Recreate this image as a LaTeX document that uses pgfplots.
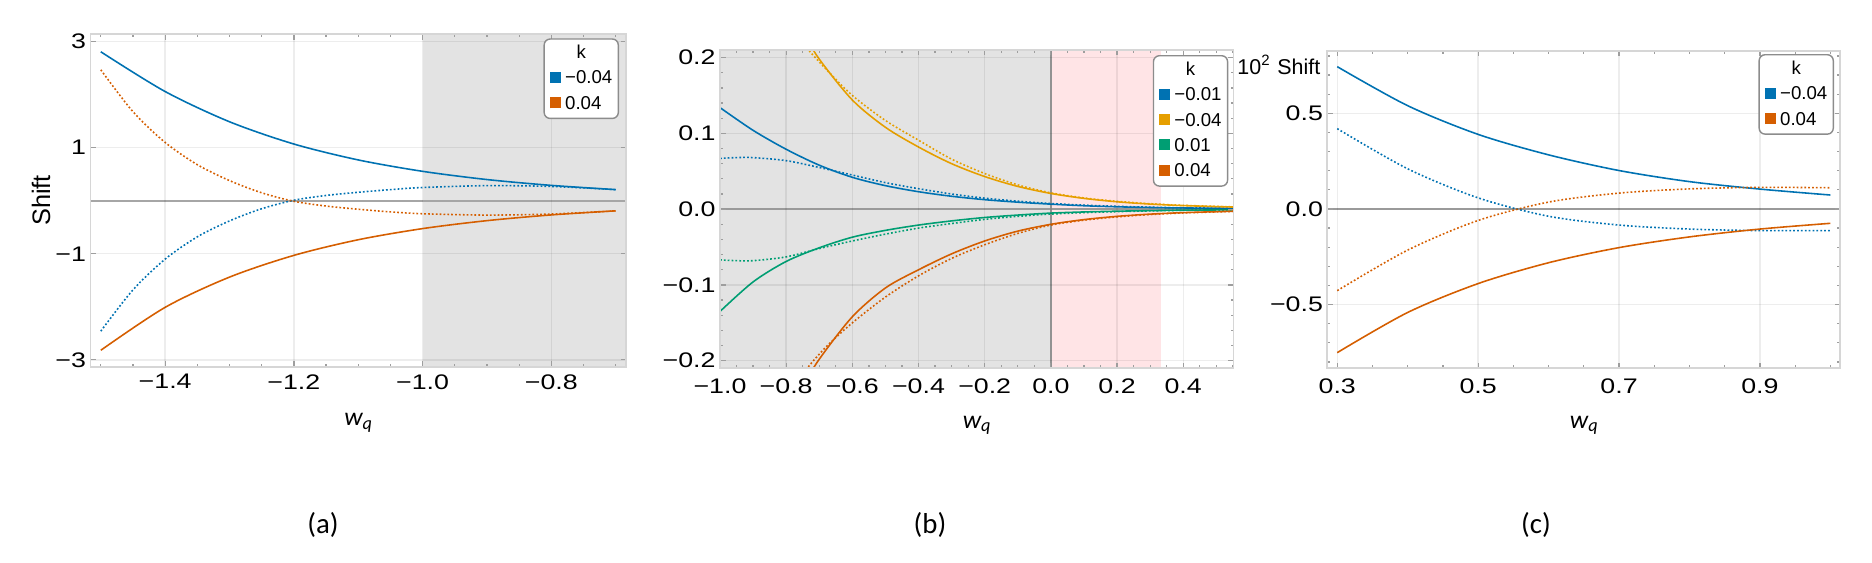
\documentclass[border=0pt]{standalone}
\usepackage{fontspec}
\setmainfont{Liberation Sans}
\newfontfamily\capfont{Carlito}
\usepackage{pgfplots}
\pgfplotsset{compat=1.18}

\definecolor{cB}{HTML}{0072B2}
\definecolor{cY}{HTML}{E69F00}
\definecolor{cG}{HTML}{009E73}
\definecolor{cV}{HTML}{D55E00}
\definecolor{shade}{RGB}{227,227,227}
\definecolor{pinkzone}{RGB}{255,228,230}

\newcommand{\sw}[1]{\textcolor{#1}{\rule[0.1mm]{1.1mm}{1.1mm}}}
\newcommand{\wq}{{\capfont\itshape\fontsize{7.3}{8}\selectfont w\raisebox{-0.35mm}{\fontsize{5.2}{6}\selectfont q}}}

\pgfplotsset{
  mma/.style={
    scale only axis, anchor=south west, axis on top,
    axis line style={black!16, line width=0.55pt},
    tick style={black!38, line width=0.35pt},
    major tick length=0.55mm, minor tick length=0.3mm,
    tick align=inside,
    grid=major,
    major grid style={black, opacity=0.07, line width=0.4pt},
    tick label style={font=\fontsize{6}{6.5}\selectfont, xscale=1.27},
    yticklabel style={inner sep=0.8pt},
    every axis x label/.style={at={(axis description cs:0.5,-0.188)}, anchor=base},
  },
  sol/.style={line width=0.45pt, smooth, no marks},
  dot/.style={line width=0.45pt, smooth, no marks, dash pattern=on 0.5pt off 0.6pt},
  zl/.style={black!35, line width=0.45pt, no marks, forget plot},
}

\begin{document}
\begin{tikzpicture}
\path[use as bounding box] (0,0) rectangle (187.2mm,56.2mm);

% (a)
\begin{axis}[mma, at={(9.05mm,19.53mm)}, width=53.55mm, height=33.27mm,
  xmin=-1.516, xmax=-0.684, ymin=-3.13, ymax=3.145,
  xtick={-1.4,-1.2,-1.0,-0.8}, xticklabels={−1.4,−1.2,−1.0,−0.8},
  minor xtick={-1.5,-1.45,...,-0.69},
  ytick={-3,-1,1,3}, yticklabels={−3,−1,1,3},
  xticklabel style={inner sep=2pt},
  xlabel={\wq},
  every axis x label/.style={at={(axis description cs:0.5,-0.178)}, anchor=base},
  ylabel={Shift},
  every axis y label/.style={at={(axis description cs:-0.0924,0.5)}, rotate=90, anchor=center, font=\fontsize{7.2}{8}\selectfont},
]
\addplot[fill=shade, draw=none, forget plot] coordinates {(-1.0,-4) (-0.6,-4) (-0.6,4) (-1.0,4)} -- cycle;
\addplot[zl] coordinates {(-1.6,0) (-0.6,0)};
\addplot[sol, cB] coordinates {(-1.5,2.81) (-1.4,2.06) (-1.3,1.49) (-1.2,1.07) (-1.1,0.77) (-1.0,0.555) (-0.9,0.40) (-0.8,0.29) (-0.7,0.21)};
\addplot[dot, cB] coordinates {(-1.5,-2.46) (-1.45,-1.68) (-1.4,-1.10) (-1.35,-0.68) (-1.3,-0.38) (-1.25,-0.15) (-1.2,0.01) (-1.15,0.10) (-1.1,0.16) (-1.05,0.21) (-1.0,0.25) (-0.9,0.285) (-0.8,0.27) (-0.7,0.21)};
\addplot[sol, cV] coordinates {(-1.5,-2.82) (-1.4,-2.01) (-1.3,-1.44) (-1.2,-1.03) (-1.1,-0.735) (-1.0,-0.525) (-0.9,-0.375) (-0.8,-0.267) (-0.7,-0.19)};
\addplot[dot, cV] coordinates {(-1.5,2.47) (-1.45,1.68) (-1.4,1.10) (-1.35,0.68) (-1.3,0.38) (-1.25,0.15) (-1.2,-0.01) (-1.15,-0.10) (-1.1,-0.16) (-1.05,-0.21) (-1.0,-0.245) (-0.9,-0.27) (-0.8,-0.25) (-0.7,-0.19)};
\end{axis}

% (b)
\begin{axis}[mma, at={(72.0mm,19.37mm)}, width=51.35mm, height=31.83mm,
  xmin=-1.0, xmax=0.552, ymin=-0.21, ymax=0.21,
  xtick={-1.0,-0.8,...,0.41}, xticklabels={−1.0,−0.8,−0.6,−0.4,−0.2,0.0,0.2,0.4},
  minor xtick={-1.0,-0.95,...,0.56},
  ytick={-0.2,-0.1,0,0.1,0.2}, yticklabels={−0.2,−0.1,0.0,0.1,0.2},
  minor ytick={-0.2,-0.18,...,0.21},
  xticklabel style={inner sep=2.8pt},
  xlabel={\wq},
]
\addplot[fill=shade, draw=none, forget plot] coordinates {(-1.1,-1) (0,-1) (0,1) (-1.1,1)} -- cycle;
\addplot[fill=pinkzone, draw=none, forget plot] coordinates {(0,-1) (0.3333,-1) (0.3333,1) (0,1)} -- cycle;
\addplot[zl] coordinates {(-1.1,0) (0.6,0)};
\addplot[zl, black!38, line width=0.55pt] coordinates {(0,-1) (0,1)};
\addplot[sol, cB] coordinates {(-1.0,0.134) (-0.9,0.104) (-0.8,0.079) (-0.7,0.058) (-0.6,0.042) (-0.5,0.031) (-0.4,0.023) (-0.3,0.017) (-0.2,0.0125) (-0.1,0.0092) (0.0,0.0066) (0.1,0.0045) (0.2,0.0031) (0.3,0.0022) (0.4,0.0016) (0.55,0.001)};
\addplot[dot, cB] coordinates {(-1.0,0.067) (-0.95,0.068) (-0.9,0.068) (-0.8,0.064) (-0.7,0.055) (-0.6,0.045) (-0.5,0.035) (-0.4,0.027) (-0.3,0.020) (-0.2,0.0145) (-0.1,0.0105) (0.0,0.0075) (0.1,0.0053) (0.2,0.0037) (0.3,0.0026) (0.4,0.0018) (0.55,0.0011)};
\addplot[sol, cY] coordinates {(-0.8,0.28) (-0.75,0.235) (-0.7,0.198) (-0.6,0.144) (-0.5,0.108) (-0.4,0.082) (-0.3,0.060) (-0.2,0.043) (-0.1,0.030) (0.0,0.0207) (0.1,0.0142) (0.2,0.0097) (0.3,0.0067) (0.4,0.0047) (0.55,0.0028)};
\addplot[dot, cY] coordinates {(-0.8,0.25) (-0.74,0.214) (-0.68,0.185) (-0.6,0.150) (-0.5,0.117) (-0.4,0.091) (-0.3,0.066) (-0.2,0.047) (-0.1,0.032) (0.0,0.0215) (0.1,0.0148) (0.2,0.0103) (0.3,0.0072) (0.4,0.005) (0.55,0.003)};
\addplot[sol, cG] coordinates {(-1.0,-0.135) (-0.9,-0.096) (-0.8,-0.069) (-0.7,-0.051) (-0.6,-0.037) (-0.5,-0.028) (-0.4,-0.021) (-0.3,-0.0155) (-0.2,-0.011) (-0.1,-0.0078) (0.0,-0.0052) (0.1,-0.0037) (0.2,-0.0027) (0.3,-0.002) (0.4,-0.0014) (0.55,-0.0009)};
\addplot[dot, cG] coordinates {(-1.0,-0.067) (-0.95,-0.068) (-0.9,-0.068) (-0.8,-0.063) (-0.7,-0.052) (-0.6,-0.042) (-0.5,-0.033) (-0.4,-0.025) (-0.3,-0.019) (-0.2,-0.0135) (-0.1,-0.0095) (0.0,-0.0065) (0.1,-0.0046) (0.2,-0.0033) (0.3,-0.0023) (0.4,-0.0016) (0.55,-0.001)};
\addplot[sol, cV] coordinates {(-0.8,-0.28) (-0.75,-0.235) (-0.7,-0.198) (-0.6,-0.142) (-0.5,-0.104) (-0.4,-0.080) (-0.3,-0.059) (-0.2,-0.042) (-0.1,-0.029) (0.0,-0.020) (0.1,-0.0138) (0.2,-0.0095) (0.3,-0.0066) (0.4,-0.0046) (0.55,-0.0028)};
\addplot[dot, cV] coordinates {(-0.8,-0.25) (-0.74,-0.212) (-0.68,-0.182) (-0.6,-0.150) (-0.5,-0.116) (-0.4,-0.088) (-0.3,-0.065) (-0.2,-0.047) (-0.1,-0.032) (0.0,-0.021) (0.1,-0.0146) (0.2,-0.0102) (0.3,-0.0071) (0.4,-0.005) (0.55,-0.003)};
\end{axis}

% (c)
\begin{axis}[mma, at={(132.74mm,19.37mm)}, width=51.28mm, height=31.76mm,
  xmin=0.286, xmax=1.014, ymin=-0.833, ymax=0.8275,
  xtick={0.3,0.5,0.7,0.9}, xticklabels={0.3,0.5,0.7,0.9},
  minor xtick={0.3,0.35,...,1.01},
  ytick={-0.5,0,0.5}, yticklabels={−0.5,0.0,0.5},
  minor ytick={-0.8,-0.7,...,0.81},
  xticklabel style={inner sep=2.8pt},
  xlabel={\wq},
  ylabel={10\textsuperscript{2} Shift},
  every axis y label/.style={at={(axis description cs:-0.0125,0.955)}, anchor=east, inner sep=0pt, font=\fontsize{6.1}{7}\selectfont},
]
\addplot[zl] coordinates {(0.2,0) (1.1,0)};
\addplot[sol, cB] coordinates {(0.3,0.744) (0.4,0.540) (0.5,0.390) (0.6,0.283) (0.7,0.201) (0.8,0.143) (0.9,0.104) (1.0,0.073)};
\addplot[dot, cB] coordinates {(0.3,0.420) (0.4,0.210) (0.5,0.058) (0.6,-0.038) (0.7,-0.084) (0.8,-0.105) (0.9,-0.113) (1.0,-0.113)};
\addplot[sol, cV] coordinates {(0.3,-0.751) (0.4,-0.541) (0.5,-0.390) (0.6,-0.281) (0.7,-0.202) (0.8,-0.146) (0.9,-0.105) (1.0,-0.075)};
\addplot[dot, cV] coordinates {(0.3,-0.427) (0.4,-0.215) (0.5,-0.060) (0.6,0.036) (0.7,0.083) (0.8,0.105) (0.9,0.113) (1.0,0.111)};
\end{axis}

% legends
\tikzset{legbox/.style={draw=black!45, line width=0.4pt, rounded corners=0.6mm, fill=white,
  inner xsep=0.6mm, inner ysep=0.15mm, anchor=north east, font=\fontsize{5.3}{7.25}\selectfont}}
\node[legbox] at (61.9mm,52.37mm) {\begin{tabular}{@{}l@{\hspace{0.4mm}}l@{}}
  \multicolumn{2}{c}{k}\\ \sw{cB} & −0.04\\ \sw{cV} & 0.04\end{tabular}};
\node[legbox] at (122.83mm,50.7mm) {\begin{tabular}{@{}l@{\hspace{0.4mm}}l@{}}
  \multicolumn{2}{c}{k}\\ \sw{cB} & −0.01\\ \sw{cY} & −0.04\\ \sw{cG} & 0.01\\ \sw{cV} & 0.04\end{tabular}};
\node[legbox] at (183.4mm,50.8mm) {\begin{tabular}{@{}l@{\hspace{0.4mm}}l@{}}
  \multicolumn{2}{c}{k}\\ \sw{cB} & −0.04\\ \sw{cV} & 0.04\end{tabular}};

% captions
\node[font=\capfont\fontsize{8.2}{9}\selectfont] at (32.3mm,3.7mm) {(a)};
\node[font=\capfont\fontsize{8.2}{9}\selectfont] at (93.0mm,3.7mm) {(b)};
\node[font=\capfont\fontsize{8.2}{9}\selectfont] at (153.6mm,3.7mm) {(c)};
\end{tikzpicture}
\end{document}
